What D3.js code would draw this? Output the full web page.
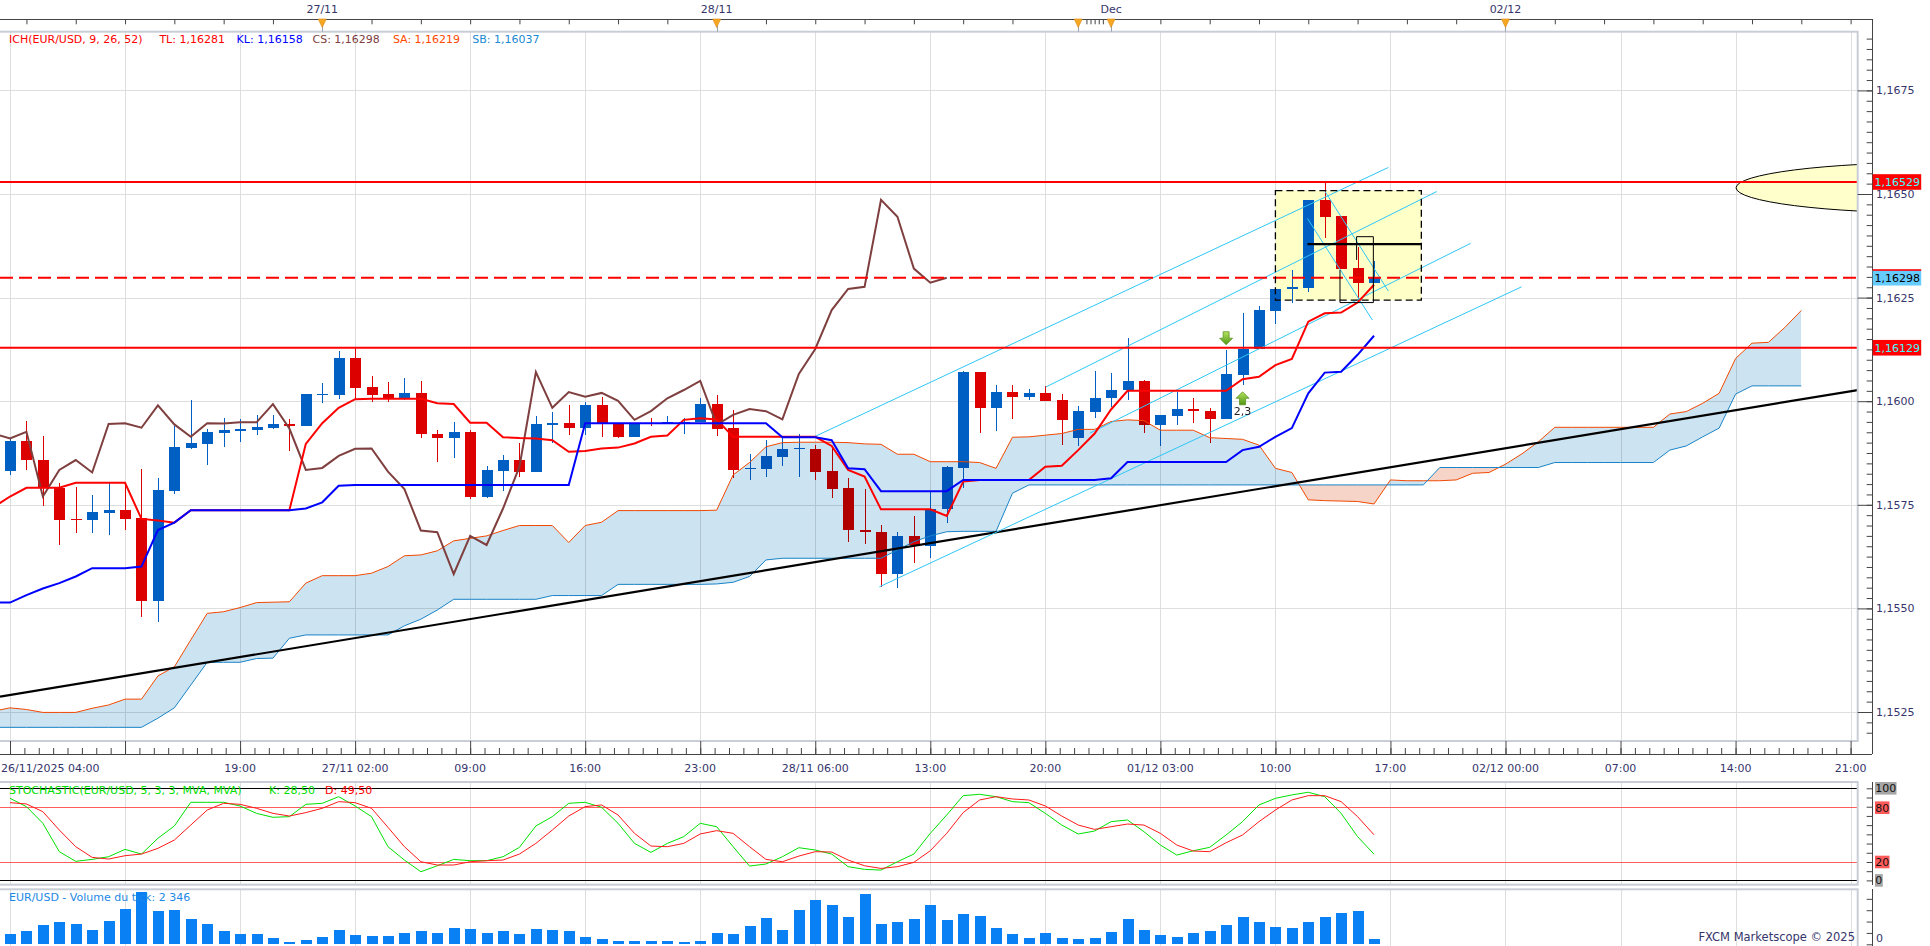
<!DOCTYPE html>
<html>
<head>
<meta charset="utf-8">
<title>EUR/USD H1 - Ichimoku</title>
<script src="https://cdn.jsdelivr.net/npm/d3@7"></script>
<style>
  html, body { margin: 0; padding: 0; background: #fff; overflow: hidden; }
  svg { display: block; font-family: "DejaVu Sans", Verdana, sans-serif; font-size: 11px; }
</style>
</head>
<body>
<script>
// ---- values: EUR/USD hourly bars, bar 0 is the first visible bar ----
const opens = [
  1.15832,1.15904,1.15858,1.15790,1.15716,1.15713,1.15731,1.15737,1.15717,1.15518,
  1.15783,1.15888,1.15897,1.15924,1.15929,1.15931,1.15935,1.15944,1.15940,1.16016,
  1.16016,1.16104,1.16034,1.16017,1.16008,1.16020,1.15922,1.15910,1.15926,1.15770,
  1.15832,1.15858,1.15828,1.15943,1.15947,1.15936,1.15990,1.15944,1.15914,1.15948,
  1.15947,1.15947,1.15950,1.15993,1.15935,1.15837,1.15837,1.15866,1.15884,1.15885,
  1.15832,1.15790,1.15689,1.15685,1.15583,1.15675,1.15651,1.15740,1.15840,1.16070,
  1.15984,1.16022,1.16011,1.16020,1.16003,1.15910,1.15975,1.16007,1.16027,1.16049,
  1.15943,1.15965,1.15981,1.15976,1.15956,1.16063,1.16126,1.16218,1.16270,1.16274,
  1.16486,1.16447,1.16321,1.16286];
const highs = [
  1.15910,1.15953,1.15916,1.15802,1.15794,1.15774,1.15802,1.15802,1.15836,1.15814,
  1.15940,1.16003,1.15934,1.15959,1.15957,1.15967,1.15967,1.15957,1.16018,1.16045,
  1.16121,1.16129,1.16061,1.16046,1.16056,1.16049,1.15931,1.15951,1.15931,1.15844,
  1.15870,1.15898,1.15964,1.15974,1.15991,1.15997,1.16009,1.15947,1.15947,1.15959,
  1.15964,1.15959,1.16008,1.16015,1.15979,1.15873,1.15906,1.15910,1.15922,1.15894,
  1.15886,1.15814,1.15788,1.15701,1.15685,1.15723,1.15782,1.15844,1.16072,1.16070,
  1.16039,1.16039,1.16029,1.16037,1.16017,1.15988,1.16073,1.16067,1.16152,1.16051,
  1.15967,1.16021,1.16007,1.15983,1.16124,1.16212,1.16230,1.16271,1.16317,1.16486,
  1.16529,1.16447,1.16373,1.16338];
const lows = [
  1.15822,1.15834,1.15748,1.15653,1.15681,1.15681,1.15677,1.15688,1.15480,1.15468,
  1.15776,1.15885,1.15846,1.15890,1.15902,1.15918,1.15932,1.15881,1.15940,1.15996,
  1.16005,1.16003,1.15999,1.15999,1.16004,1.15910,1.15854,1.15864,1.15763,1.15767,
  1.15784,1.15818,1.15828,1.15900,1.15918,1.15918,1.15914,1.15910,1.15914,1.15940,
  1.15947,1.15922,1.15950,1.15916,1.15814,1.15811,1.15818,1.15844,1.15816,1.15810,
  1.15767,1.15661,1.15655,1.15551,1.15550,1.15610,1.15622,1.15707,1.15791,1.15924,
  1.15929,1.15957,1.16003,1.16001,1.15894,1.15892,1.15959,1.15987,1.16003,1.15924,
  1.15892,1.15943,1.15947,1.15900,1.15956,1.16039,1.16126,1.16186,1.16238,1.16264,
  1.16393,1.16320,1.16243,1.16286];
const closes = [
  1.15904,1.15857,1.15790,1.15713,1.15714,1.15732,1.15737,1.15716,1.15518,1.15786,
  1.15890,1.15899,1.15926,1.15931,1.15934,1.15938,1.15944,1.15940,1.16017,1.16017,
  1.16104,1.16033,1.16016,1.16008,1.16020,1.15922,1.15910,1.15926,1.15770,1.15834,
  1.15858,1.15828,1.15945,1.15947,1.15936,1.15990,1.15944,1.15914,1.15947,1.15946,
  1.15949,1.15949,1.15993,1.15934,1.15834,1.15839,1.15868,1.15885,1.15886,1.15830,
  1.15788,1.15688,1.15684,1.15583,1.15675,1.15653,1.15741,1.15842,1.16070,1.15984,
  1.16022,1.16011,1.16020,1.16001,1.15955,1.15976,1.16007,1.16027,1.16049,1.15943,
  1.15967,1.15981,1.15976,1.15956,1.16066,1.16126,1.16220,1.16271,1.16276,1.16486,
  1.16445,1.16320,1.16286,1.16298];

// Ichimoku lines, first value is bar -1 (just left of the frame)
const tenkan = [1.15744,
  1.15770,1.15791,1.15791,1.15791,1.15803,1.15803,1.15803,1.15803,1.15716,1.15712,
  1.15707,1.15737,1.15737,1.15737,1.15737,1.15737,1.15737,1.15737,1.15897,1.15947,
  1.15984,1.16005,1.16006,1.16006,1.16006,1.16006,1.15995,1.15993,1.15948,1.15948,
  1.15913,1.15911,1.15910,1.15906,1.15878,1.15880,1.15886,1.15888,1.15898,1.15914,
  1.15917,1.15955,1.15959,1.15956,1.15914,1.15914,1.15914,1.15914,1.15914,1.15914,
  1.15892,1.15834,1.15818,1.15739,1.15739,1.15739,1.15739,1.15723,1.15806,1.15810,
  1.15810,1.15810,1.15810,1.15842,1.15844,1.15882,1.15922,1.15980,1.16025,1.16025,
  1.16025,1.16025,1.16025,1.16025,1.16025,1.16053,1.16059,1.16087,1.16102,1.16192,
  1.16212,1.16214,1.16238,1.16281];
const kijun = [1.15514,
  1.15514,1.15532,1.15548,1.15561,1.15577,1.15597,1.15597,1.15597,1.15601,1.15689,
  1.15707,1.15737,1.15737,1.15737,1.15737,1.15737,1.15737,1.15737,1.15741,1.15756,
  1.15796,1.15798,1.15798,1.15798,1.15798,1.15798,1.15798,1.15798,1.15798,1.15798,
  1.15798,1.15798,1.15798,1.15798,1.15798,1.15947,1.15947,1.15947,1.15947,1.15947,
  1.15947,1.15947,1.15947,1.15947,1.15947,1.15947,1.15947,1.15913,1.15913,1.15913,
  1.15906,1.15838,1.15836,1.15783,1.15783,1.15783,1.15783,1.15783,1.15810,1.15810,
  1.15810,1.15810,1.15810,1.15810,1.15810,1.15810,1.15810,1.15814,1.15853,1.15853,
  1.15853,1.15853,1.15853,1.15853,1.15853,1.15882,1.15890,1.15914,1.15935,1.16019,
  1.16069,1.16071,1.16112,1.16158];
// Senkou spans, bar -1 to bar 109 (26 bars ahead of the last candle)
const senkouA = [1.15252,
  1.15260,1.15256,1.15249,1.15249,1.15249,1.15259,1.15267,1.15281,1.15281,1.15337,
  1.15359,1.15424,1.15488,1.15492,1.15502,1.15514,1.15515,1.15516,1.15561,1.15579,
  1.15579,1.15579,1.15585,1.15601,1.15627,1.15629,1.15639,1.15663,1.15669,1.15675,
  1.15688,1.15700,1.15700,1.15700,1.15659,1.15700,1.15708,1.15736,1.15736,1.15736,
  1.15736,1.15736,1.15736,1.15737,1.15822,1.15852,1.15890,1.15900,1.15901,1.15901,
  1.15901,1.15900,1.15897,1.15896,1.15872,1.15872,1.15854,1.15854,1.15854,1.15852,
  1.15838,1.15913,1.15914,1.15918,1.15922,1.15932,1.15932,1.15951,1.15955,1.15953,
  1.15930,1.15930,1.15930,1.15912,1.15910,1.15908,1.15894,1.15838,1.15828,1.15762,
  1.15760,1.15759,1.15758,1.15752,1.15810,1.15808,1.15808,1.15808,1.15810,1.15826,
  1.15828,1.15848,1.15873,1.15902,1.15937,1.15937,1.15937,1.15937,1.15937,1.15937,
  1.15937,1.15969,1.15975,1.15995,1.16019,1.16103,1.16140,1.16142,1.16178,1.16219];
const senkouB = [1.15213,
  1.15213,1.15213,1.15213,1.15213,1.15213,1.15213,1.15213,1.15213,1.15213,1.15235,
  1.15260,1.15315,1.15370,1.15370,1.15370,1.15379,1.15380,1.15428,1.15436,1.15436,
  1.15436,1.15436,1.15436,1.15436,1.15458,1.15474,1.15496,1.15522,1.15522,1.15522,
  1.15522,1.15522,1.15522,1.15531,1.15531,1.15531,1.15531,1.15558,1.15558,1.15558,
  1.15558,1.15558,1.15558,1.15559,1.15563,1.15577,1.15617,1.15621,1.15621,1.15621,
  1.15621,1.15621,1.15621,1.15621,1.15641,1.15661,1.15675,1.15685,1.15686,1.15686,
  1.15686,1.15778,1.15798,1.15798,1.15798,1.15798,1.15798,1.15798,1.15798,1.15798,
  1.15798,1.15798,1.15798,1.15798,1.15798,1.15798,1.15798,1.15798,1.15798,1.15798,
  1.15798,1.15798,1.15798,1.15798,1.15798,1.15798,1.15798,1.15840,1.15840,1.15840,
  1.15840,1.15840,1.15840,1.15840,1.15852,1.15852,1.15852,1.15852,1.15852,1.15852,
  1.15852,1.15882,1.15892,1.15914,1.15935,1.16017,1.16037,1.16037,1.16037,1.16037];
const chikouShift = 26;

const stochK = [
  89.1,80.1,62.0,31.2,20.7,22.8,25.7,33.7,28.6,45.7,
  59.1,84.8,84.8,84.8,80.8,72.8,68.5,69.2,82.6,83.7,
  90.9,80.8,69.2,36.6,22.1,9.4,15.9,22.8,21.4,21.4,
  25.7,35.9,59.1,69.2,83.7,84.8,79.3,62.0,40.2,30.4,
  40.2,47.5,62.0,58.3,36.6,15.6,17.8,25.7,35.5,33.0,
  28.6,14.9,12.0,11.2,20.3,28.6,51.1,71.0,92.0,93.5,
  90.9,85.5,84.4,72.8,60.1,50.4,53.6,63.8,65.6,52.9,
  38.4,27.5,32.2,35.9,49.3,63.8,81.9,89.1,92.8,95.7,
  90.9,72.8,47.5,28.5];
const stochD = [
  84.4,83.0,74.6,54.7,36.6,25.0,23.2,26.8,28.6,34.8,
  43.8,60.1,76.4,83.7,82.6,78.3,72.8,69.9,73.6,78.3,
  85.5,84.4,78.3,57.6,36.6,20.3,16.7,16.7,20.3,21.4,
  22.1,28.6,40.2,54.7,69.9,80.1,81.9,71.0,51.1,37.3,
  36.6,40.2,50.4,54.0,51.1,36.6,22.8,20.3,26.4,31.2,
  30.8,22.1,15.9,13.0,14.9,19.6,32.2,51.1,73.6,87.3,
  90.9,88.4,87.3,80.8,69.9,60.1,55.4,58.3,61.2,60.1,
  51.1,38.4,31.9,31.2,40.9,49.3,63.8,76.4,87.3,92.0,
  92.0,85.5,69.2,49.5];
const stochLevels = [100, 80, 20, 0];

const volumes = [
  4540,6010,8500,9820,8940,6300,10260,15540,23020,14660,
  15100,11140,8940,5860,4540,4540,2790,1030,1910,3230,
  6300,4100,3670,3670,4980,5860,4980,7180,6740,4980,
  5860,4540,6740,6300,5860,3230,2350,1470,1470,1470,
  1470,1030,1610,4980,4540,8060,11580,6300,15100,19500,
  17300,12020,22140,8940,9820,11140,17300,10700,13340,12460,
  7180,4540,2790,4980,2790,2350,2790,5420,11140,6300,
  4100,3230,4980,5860,8500,12020,9820,7620,7180,9820,
  12020,13780,14660,2346];

// axis labels
const priceTicks = [1.1525, 1.1550, 1.1575, 1.1600, 1.1625, 1.1650, 1.1675];
const firstTimeLabel = "26/11/2025 04:00";
const timeLabelBars = [14, 21, 28, 35, 42, 49, 56, 63, 70, 77, 84, 91, 98, 105, 112];
const timeLabels = ["19:00", "27/11 02:00", "09:00", "16:00", "23:00", "28/11 06:00", "13:00",
  "20:00", "01/12 03:00", "10:00", "17:00", "02/12 00:00", "07:00", "14:00", "21:00"];
const dayLabelBars = [19, 43, 67, 91];
const dayLabels = ["27/11", "28/11", "Dec", "02/12"];
const sessionMarkerBars = [19, 43, 65, 67, 91];

// drawn objects (bar, price)
const trendBars = [0, 112];
const trendPrices = [1.15291, 1.16024];
const levelLines = [1.16529, 1.16129];
const channelLines = [
  [48.88, 1.15913, 83.87, 1.16564],
  [63.02, 1.16034, 86.82, 1.16506],
  [65.72, 1.15923, 88.88, 1.16381],
  [52.90, 1.15552, 91.98, 1.16276],
  [78.95, 1.16441, 82.90, 1.16196],
  [80.02, 1.16506, 83.87, 1.16266]];
const boxBars = [77.0, 85.88];
const boxPrices = [1.16508, 1.16244];
const thickLine = [78.95, 85.92, 1.16379];
const rulerPoints = [[81.94, 1.16341], [81.94, 1.16397], [82.96, 1.16397], [82.96, 1.16238], [80.93, 1.16238], [80.93, 1.16317]];
const signalBars = [74, 75];
const signalPrices = [1.16152, 1.16007];
const signalDirs = ["down", "up"];
const signalText = ["", "2,3"];
const targetEllipse = [117.2, 1.16515, 12.17, 0.00061];

// ---- layout ----
const W = 1930, H = 946;
const plotR = 1857.7, axisX = 1872.3;
const mainT = 31.7, mainB = 741;
const stochT = 782, stochB = 884.7;
const volT = 889.3, volB = 946;
const topAxisY = 19, bottomAxisY = 754;

const gridColor = "#dedede", frameColor = "#c9ced6", textColor = "#35356b";
const candleBlue = "#005fc3", candleRed = "#dd0000";

const x = d3.scaleLinear().domain([0, 112]).range([10, 1850.6]);
const y = d3.scaleLinear().domain([1.1525, 1.1675]).range([712, 90.4]);
const ys = d3.scaleLinear().domain([0, 100]).range([880.4, 788.3]);
const yv = d3.scaleLinear().domain([0, 24200]).range([944.3, 889.3]);

const loc = d3.formatLocale({decimal: ",", thousands: " ", grouping: [3], currency: ["", ""]});
const f5 = loc.format(".5f"), f4 = loc.format(".4f"), f2 = loc.format(".2f"), fInt = loc.format(",d");
const px = v => Math.round(v) + 0.5;

const gridBars = d3.range(0, 113, 7);

const svg = d3.select("body").append("svg").attr("width", W).attr("height", H);
const defs = svg.append("defs");
function clipRect(id, y0, y1) {
  defs.append("clipPath").attr("id", id).append("rect")
    .attr("x", 0).attr("y", y0).attr("width", plotR).attr("height", y1 - y0);
}
clipRect("clipMain", mainT, mainB);
clipRect("clipStoch", stochT, stochB);
clipRect("clipVol", volT, volB);

const grad = defs.append("linearGradient").attr("id", "arrowGrad").attr("x1", 0).attr("y1", 0).attr("x2", 0).attr("y2", 1);
grad.append("stop").attr("offset", "0%").attr("stop-color", "#b6e35e");
grad.append("stop").attr("offset", "100%").attr("stop-color", "#4f9614");

svg.append("rect").attr("width", W).attr("height", H).attr("fill", "#fff");

function vGrid(g, y0, y1) {
  g.append("g").selectAll("line").data(gridBars).join("line")
    .attr("x1", d => px(x(d))).attr("x2", d => px(x(d)))
    .attr("y1", y0).attr("y2", y1).attr("stroke", gridColor);
}

// ================= main panel =================
const gMain = svg.append("g").attr("clip-path", "url(#clipMain)");
gMain.append("g").selectAll("line").data(priceTicks).join("line")
  .attr("x1", 0).attr("x2", plotR).attr("y1", d => px(y(d))).attr("y2", d => px(y(d)))
  .attr("stroke", gridColor);
vGrid(gMain, mainT, mainB);

// yellow zone behind the candles
gMain.append("rect")
  .attr("x", x(boxBars[0])).attr("y", y(boxPrices[0]))
  .attr("width", x(boxBars[1]) - x(boxBars[0])).attr("height", y(boxPrices[1]) - y(boxPrices[0]))
  .attr("fill", "#ffffc8");

// candles
const bars = opens.map((o, i) => ({i, o, h: highs[i], l: lows[i], c: closes[i]}));
const candleColor = d => d.c >= d.o ? candleBlue : candleRed;
const gc = gMain.append("g").attr("shape-rendering", "crispEdges");
gc.selectAll("line").data(bars).join("line")
  .attr("x1", d => px(x(d.i))).attr("x2", d => px(x(d.i)))
  .attr("y1", d => y(d.h)).attr("y2", d => y(d.l))
  .attr("stroke", candleColor);
gc.selectAll("rect").data(bars).join("rect")
  .attr("x", d => Math.round(x(d.i)) - 5).attr("width", 11)
  .attr("y", d => y(Math.max(d.o, d.c)))
  .attr("height", d => Math.max(1, Math.abs(y(d.o) - y(d.c))))
  .attr("fill", candleColor);

// cloud
const cloud = senkouA.map((a, k) => ({bar: k - 1, a, b: senkouB[k]}));
defs.append("clipPath").attr("id", "aboveA").append("path")
  .attr("d", d3.area().x(d => x(d.bar)).y0(mainT).y1(d => y(d.a))(cloud));
defs.append("clipPath").attr("id", "belowA").append("path")
  .attr("d", d3.area().x(d => x(d.bar)).y0(mainB).y1(d => y(d.a))(cloud));
const band = d3.area().x(d => x(d.bar)).y0(d => y(d.b)).y1(d => y(d.a));
const gCloud = gMain.append("g").style("mix-blend-mode", "multiply");
gCloud.append("path").attr("d", band(cloud)).attr("fill", "#cce3f1").attr("clip-path", "url(#belowA)");
gCloud.append("path").attr("d", band(cloud)).attr("fill", "#f6d4c8").attr("clip-path", "url(#aboveA)");
gMain.append("path").attr("d", d3.line().x(d => x(d.bar)).y(d => y(d.a))(cloud))
  .attr("fill", "none").attr("stroke", "#f04800").attr("stroke-width", 1);
gMain.append("path").attr("d", d3.line().x(d => x(d.bar)).y(d => y(d.b))(cloud))
  .attr("fill", "none").attr("stroke", "#1883c6").attr("stroke-width", 1);

// trend line, extended to the frame
const slope = (trendPrices[1] - trendPrices[0]) / (trendBars[1] - trendBars[0]);
const tb0 = x.invert(0), tb1 = x.invert(plotR);
gMain.append("line")
  .attr("x1", x(tb0)).attr("y1", y(trendPrices[0] + slope * (tb0 - trendBars[0])))
  .attr("x2", x(tb1)).attr("y2", y(trendPrices[0] + slope * (tb1 - trendBars[0])))
  .attr("stroke", "#000").attr("stroke-width", 2.2);

// channel lines
gMain.append("g").selectAll("line").data(channelLines).join("line")
  .attr("x1", d => x(d[0])).attr("y1", d => y(d[1]))
  .attr("x2", d => x(d[2])).attr("y2", d => y(d[3]))
  .attr("stroke", "#2ec6f5").attr("stroke-width", 1);

// chikou, tenkan, kijun
const priceLine = d3.line().x(d => x(d.bar)).y(d => y(d.v));
const chikou = d3.range(-1, closes.length - chikouShift).map(b => ({bar: b, v: closes[b + chikouShift]}));
gMain.append("path").attr("d", priceLine(chikou)).attr("fill", "none").attr("stroke", "#7f3f3f").attr("stroke-width", 2);
gMain.append("path").attr("d", priceLine(tenkan.map((v, k) => ({bar: k - 1, v}))))
  .attr("fill", "none").attr("stroke", "#ff0000").attr("stroke-width", 2);
gMain.append("path").attr("d", priceLine(kijun.map((v, k) => ({bar: k - 1, v}))))
  .attr("fill", "none").attr("stroke", "#0000ff").attr("stroke-width", 2);

// target ellipse
gMain.append("ellipse")
  .attr("cx", x(targetEllipse[0])).attr("cy", y(targetEllipse[1]))
  .attr("rx", x(targetEllipse[0] + targetEllipse[2]) - x(targetEllipse[0]))
  .attr("ry", y(targetEllipse[1] - targetEllipse[3]) - y(targetEllipse[1]))
  .attr("fill", "#ffffcc").attr("stroke", "#000").attr("stroke-width", 1);

// horizontal levels
const lastClose = closes[closes.length - 1];
gMain.append("g").selectAll("line").data(levelLines).join("line")
  .attr("x1", 0).attr("x2", plotR).attr("y1", d => y(d)).attr("y2", d => y(d))
  .attr("stroke", "#ff0000").attr("stroke-width", 2);
gMain.append("line").attr("x1", 0).attr("x2", plotR).attr("y1", y(lastClose)).attr("y2", y(lastClose))
  .attr("stroke", "#ff0000").attr("stroke-width", 2).attr("stroke-dasharray", "13,6");

// zone border, ruler and bar
gMain.append("rect")
  .attr("x", x(boxBars[0])).attr("y", y(boxPrices[0]))
  .attr("width", x(boxBars[1]) - x(boxBars[0])).attr("height", y(boxPrices[1]) - y(boxPrices[0]))
  .attr("fill", "none").attr("stroke", "#000").attr("stroke-width", 1.3).attr("stroke-dasharray", "7,4");
gMain.append("path").attr("d", d3.line().x(d => x(d[0])).y(d => y(d[1]))(rulerPoints))
  .attr("fill", "none").attr("stroke", "#000").attr("stroke-width", 1);
gMain.append("line")
  .attr("x1", x(thickLine[0])).attr("x2", x(thickLine[1]))
  .attr("y1", y(thickLine[2])).attr("y2", y(thickLine[2]))
  .attr("stroke", "#000").attr("stroke-width", 2.2);

// signal arrows
signalBars.forEach((b, k) => {
  const cx = x(b), cy = y(signalPrices[k]);
  const s = signalDirs[k] === "down" ? 1 : -1;
  const pts = [[-3, -6.5], [3, -6.5], [3, 0], [6.5, 0], [0, 6.5], [-6.5, 0], [-3, 0]]
    .map(p => [cx + p[0], cy + s * p[1]]);
  gMain.append("path").attr("d", "M" + pts.join("L") + "Z")
    .attr("fill", "url(#arrowGrad)").attr("stroke", "#4d8a18").attr("stroke-width", 0.7);
  if (signalText[k]) {
    gMain.append("text").attr("x", cx).attr("y", cy + 17).attr("text-anchor", "middle")
      .attr("fill", "#222").text(signalText[k]);
  }
});

// legend
const legend = [
  ["ICH(EUR/USD, 9, 26, 52)", "#ff0000", 9],
  ["TL: " + f5(tenkan[tenkan.length - 1]), "#ff0000", 159.4],
  ["KL: " + f5(kijun[kijun.length - 1]), "#0000ff", 236.6],
  ["CS: " + f5(lastClose), "#804040", 312.5],
  ["SA: " + f5(senkouA[senkouA.length - 1]), "#ff4a00", 392.9],
  ["SB: " + f5(senkouB[senkouB.length - 1]), "#1a8ad4", 472.3]];
svg.append("g").selectAll("text").data(legend).join("text")
  .attr("x", d => d[2]).attr("y", 43).attr("fill", d => d[1]).text(d => d[0]);

svg.append("rect").attr("x", -2).attr("y", mainT).attr("width", plotR + 2).attr("height", mainB - mainT)
  .attr("fill", "none").attr("stroke", frameColor).attr("stroke-width", 2);

// ================= stochastic panel =================
const gSt = svg.append("g").attr("clip-path", "url(#clipStoch)");
vGrid(gSt, stochT, stochB);
gSt.append("g").attr("shape-rendering", "crispEdges").selectAll("line").data(stochLevels).join("line")
  .attr("x1", 0).attr("x2", plotR).attr("y1", d => px(ys(d))).attr("y2", d => px(ys(d)))
  .attr("stroke", d => (d === 0 || d === 100) ? "#000" : "#ff5c5c");
const stLine = d3.line().x((d, i) => x(i)).y(d => ys(d));
gSt.append("path").attr("d", stLine(stochK)).attr("fill", "none").attr("stroke", "#00e000").attr("stroke-width", 1);
gSt.append("path").attr("d", stLine(stochD)).attr("fill", "none").attr("stroke", "#ff1a1a").attr("stroke-width", 1);
svg.append("text").attr("x", 9).attr("y", 794).attr("fill", "#00dd00").text("STOCHASTIC(EUR/USD, 5, 3, 3, MVA, MVA)");
svg.append("text").attr("x", 269).attr("y", 794).attr("fill", "#00dd00").text("K: " + f2(stochK[stochK.length - 1]));
svg.append("text").attr("x", 325).attr("y", 794).attr("fill", "#ff0000").text("D: " + f2(stochD[stochD.length - 1]));
svg.append("rect").attr("x", -2).attr("y", stochT).attr("width", plotR + 2).attr("height", stochB - stochT)
  .attr("fill", "none").attr("stroke", frameColor).attr("stroke-width", 2);

// ================= volume panel =================
const gV = svg.append("g").attr("clip-path", "url(#clipVol)");
vGrid(gV, volT, volB);
svg.append("text").attr("x", 9).attr("y", 901).attr("fill", "#1e88e5")
  .text("EUR/USD - Volume du tick: " + fInt(volumes[volumes.length - 1]));
gV.append("g").attr("shape-rendering", "crispEdges").selectAll("rect").data(volumes).join("rect")
  .attr("x", (d, i) => Math.round(x(i)) - 5).attr("width", 11)
  .attr("y", d => yv(d)).attr("height", d => yv(0) - yv(d))
  .attr("fill", "#0a80f5");
svg.append("text").attr("x", 1855).attr("y", 941).attr("text-anchor", "end").attr("fill", textColor)
  .attr("font-size", "11.5px").text("FXCM Marketscope \u00a9 2025");
svg.append("rect").attr("x", -2).attr("y", volT).attr("width", plotR + 2).attr("height", volB - volT + 3)
  .attr("fill", "none").attr("stroke", frameColor).attr("stroke-width", 2);

// ================= axes =================
const axisColor = "#444";
function hline(yy, x0, x1) {
  svg.append("line").attr("x1", x0).attr("x2", x1).attr("y1", px(yy)).attr("y2", px(yy))
    .attr("stroke", axisColor).attr("shape-rendering", "crispEdges");
}
function vline(xx, y0, y1) {
  svg.append("line").attr("x1", px(xx)).attr("x2", px(xx)).attr("y1", y0).attr("y2", y1)
    .attr("stroke", axisColor).attr("shape-rendering", "crispEdges");
}
const noDomain = g => g.select(".domain").remove();

// top time axis
hline(topAxisY, 0, axisX);
const topTicks = d3.range(1, 113, 3).filter(b => b < 64 || b > 66).concat([65.5, 65.75, 66, 66.25, 66.5]);
svg.append("g").attr("transform", `translate(0,${px(topAxisY) - 0.5})`).attr("color", axisColor)
  .call(d3.axisBottom(x).tickValues(topTicks).tickSize(5.3).tickFormat("")).call(noDomain);
const gMarks = svg.append("g");
gMarks.selectAll("line").data(sessionMarkerBars).join("line")
  .attr("x1", d => px(x(d))).attr("x2", d => px(x(d))).attr("y1", topAxisY).attr("y2", mainT)
  .attr("stroke", "#9aa4b0");
gMarks.selectAll("path").data(sessionMarkerBars).join("path")
  .attr("d", d => `M${x(d) - 4},${topAxisY}L${x(d) + 4},${topAxisY}L${x(d)},${topAxisY + 8.5}Z`)
  .attr("fill", "#f7a823").attr("stroke", "#d9870f").attr("stroke-width", 0.6);
svg.append("g").selectAll("text").data(dayLabelBars).join("text")
  .attr("x", d => x(d)).attr("y", 13).attr("text-anchor", "middle").attr("fill", textColor)
  .text((d, i) => dayLabels[i]);

// bottom time axis
hline(bottomAxisY, 0, axisX);
svg.append("g").attr("transform", `translate(0,${bottomAxisY})`).attr("color", axisColor)
  .call(d3.axisTop(x).tickValues(gridBars).tickSize(13).tickFormat("")).call(noDomain);
svg.append("g").attr("transform", `translate(0,${bottomAxisY})`).attr("color", axisColor)
  .call(d3.axisTop(x).tickValues(d3.range(0, 112.5, 0.875)).tickSize(6).tickFormat("")).call(noDomain);
svg.append("text").attr("x", 1).attr("y", 772).attr("fill", textColor).text(firstTimeLabel);
svg.append("g").selectAll("text").data(timeLabelBars).join("text")
  .attr("x", d => x(d)).attr("y", 772).attr("text-anchor", "middle").attr("fill", textColor)
  .text((d, i) => timeLabels[i]);

// right price axis
vline(axisX, topAxisY, bottomAxisY);
const minorPrices = d3.range(0, 69).map(k => 1.152 + k * 0.00025).filter(p => y(p) > mainT && y(p) < mainB);
svg.append("g").attr("transform", `translate(${axisX},0)`).attr("color", axisColor)
  .call(d3.axisLeft(y).tickValues(minorPrices).tickSize(5.6).tickFormat("")).call(noDomain);
svg.append("g").attr("transform", `translate(${axisX},0)`).attr("color", axisColor)
  .call(d3.axisLeft(y).tickValues(priceTicks).tickSize(14.6).tickFormat("")).call(noDomain);
svg.append("g").selectAll("text").data(priceTicks).join("text")
  .attr("x", 1876).attr("y", d => y(d)).attr("dy", "0.36em").attr("fill", textColor).text(d => f4(d));

// price tags
const tags = [
  {p: levelLines[0], bg: "#ff0000", fg: "#3ffcff"},
  {p: lastClose, bg: "#66ccff", fg: "#000", top: "#ff0000"},
  {p: levelLines[1], bg: "#ff0000", fg: "#3ffcff"}];
tags.forEach(t => {
  const yy = y(t.p);
  svg.append("rect").attr("x", 1872.7).attr("y", yy - 7.8).attr("width", 48.5).attr("height", 15.6).attr("fill", t.bg);
  if (t.top) svg.append("rect").attr("x", 1872.7).attr("y", yy - 8.5).attr("width", 48.5).attr("height", 1.6).attr("fill", t.top);
  svg.append("text").attr("x", 1874.5).attr("y", yy).attr("dy", "0.36em").attr("fill", t.fg).text(f5(t.p));
});

// stochastic axis
vline(axisX, stochT, stochB);
svg.append("g").attr("transform", `translate(${axisX},0)`).attr("color", axisColor)
  .call(d3.axisLeft(ys).tickValues(d3.range(0, 101, 10)).tickSize(5.6).tickFormat("")).call(noDomain);
const stTags = [
  {v: 100, bg: "#a6a6a6", w: 21.5},
  {v: 80, bg: "#ff5a5a", w: 14.5},
  {v: 20, bg: "#ff5a5a", w: 14.5},
  {v: 0, bg: "#a6a6a6", w: 7.8}];
stTags.forEach(t => {
  const yy = ys(t.v) + (t.v === 80 ? 1 : 0);
  svg.append("rect").attr("x", 1875).attr("y", yy - 6.3).attr("width", t.w).attr("height", 12.6).attr("fill", t.bg);
  svg.append("text").attr("x", 1875.3).attr("y", yy).attr("dy", "0.36em").attr("fill", "#111").text(t.v);
});

// volume axis
vline(axisX, volT, volB);
svg.append("g").attr("transform", `translate(${axisX},0)`).attr("color", axisColor)
  .call(d3.axisLeft(yv).tickValues(d3.range(0, 24001, 5000)).tickSize(5.6).tickFormat("")).call(noDomain);
svg.append("text").attr("x", 1876).attr("y", 942).attr("fill", textColor).text("0");
</script>
</body>
</html>
